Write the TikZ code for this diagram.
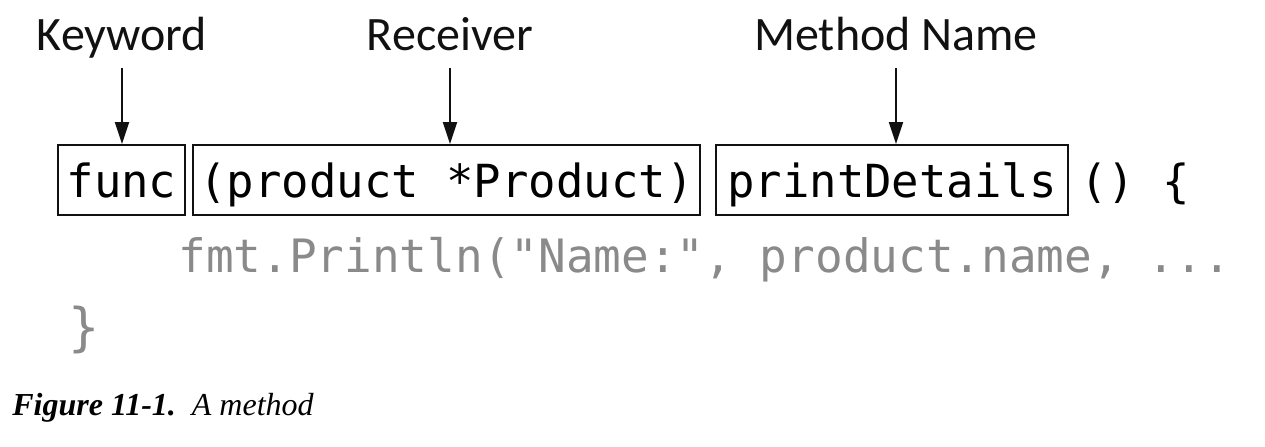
\documentclass[tikz,border=0pt]{standalone}
\usepackage{fontspec}
\setmainfont{Liberation Serif}
\setsansfont{Carlito}
\setmonofont{DejaVu Sans Mono}
\usepackage{xcolor}
\usetikzlibrary{arrows.meta,positioning}
\definecolor{Ink}{HTML}{111111}
\definecolor{Dim}{HTML}{8A8A8A}

\begin{document}
\begin{tikzpicture}[x=0.5pt,y=-0.5pt,
  part/.style={draw=Ink, line width=1pt, inner sep=0pt, minimum height=35pt,
    text height=20pt, text depth=3pt, font=\ttfamily\fontsize{22.8}{24}\selectfont},
  tag/.style={font=\sffamily\fontsize{24}{26}\selectfont, text=Ink, inner sep=0pt,
    text depth=6pt, anchor=base},
  pointer/.style={-{Triangle[length=11pt,width=7pt]}, line width=1pt, draw=Ink,
    shorten <=3pt},
  code/.style={font=\ttfamily\fontsize{22.8}{24}\selectfont, inner sep=0pt,
    anchor=base west}]
  \useasboundingbox (0,0) rectangle (1265,446);

  % signature parts
  \node[part, minimum width=63.5pt] (funcbox) at (121.5,180) {func};
  \node[part, minimum width=253.5pt] (recvbox) at (446.5,180) {(product *Product)};
  \node[part, minimum width=176pt] (namebox) at (892,180) {printDetails};
  \node[code] (tail) at (1080,197) {() \{};

  % labels
  \node[tag] (kw) at (122,50) {Keyword};
  \node[tag] (rcv) at (450,50) {Receiver};
  \node[tag] (mname) at (896,50) {Method Name};
  \draw[pointer] (kw.south) -- (kw.south |- funcbox.north);
  \draw[pointer] (rcv.south) -- (rcv.south |- recvbox.north);
  \draw[pointer] (mname.south) -- (mname.south |- namebox.north);

  % body
  \node[code, text=Dim, font=\ttfamily\fontsize{23}{24}\selectfont] (body)
    at (178,272) {fmt.Println("Name:", product.name, ...};
  \node[code, text=Dim, font=\ttfamily\fontsize{26}{28}\selectfont] (close)
    at (68,345) {\}};

  \node[anchor=base west, inner sep=0pt, font=\fontsize{16}{19}\selectfont] (caption)
    at (12,415) {\textbf{\textit{Figure 11-1.}}\enspace\textit{A method}};
\end{tikzpicture}
\end{document}
